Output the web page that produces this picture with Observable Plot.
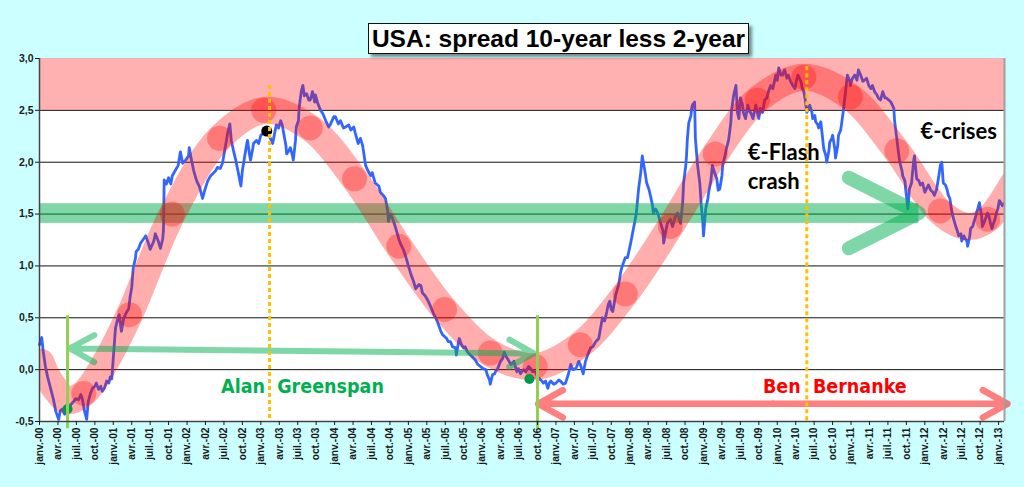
<!DOCTYPE html>
<html><head><meta charset="utf-8">
<script src="https://cdn.jsdelivr.net/npm/d3@7"></script>
<script src="https://cdn.jsdelivr.net/npm/@observablehq/plot@0.6"></script>
<style>
html,body{margin:0;padding:0;background:#ccffff;}
#wrap{position:relative;width:1024px;height:487px;overflow:hidden;background:#ccffff;}
#title{position:absolute;left:368px;top:23px;width:381px;height:31px;box-sizing:border-box;background:#fff;border:1px solid #111;box-shadow:3px 3px 3px rgba(0,0,0,0.45);font:bold 24.5px "Liberation Sans",Arial,sans-serif;text-align:center;line-height:29px;color:#000;white-space:nowrap;}
</style></head>
<body><div id="wrap"><div id="chart"></div><div id="title">USA: spread 10-year less 2-year</div></div>
<script>
// ---- data (decimal years since janv. 2000, spread in %) ----
const monthLabels = ["janv.","avr.","juil.","oct."];
const yTicks = [-0.5, 0, 0.5, 1, 1.5, 2, 2.5, 3];
const xTicks = d3.range(0, 53).map(i => i / 4);

const spreadSeries = [
[0.00,0.24],[0.03,0.31],[0.05,0.18],[0.08,0.03],[0.11,-0.07],[0.15,-0.18],[0.19,-0.29],[0.22,-0.40],[0.26,-0.48],[0.28,-0.40],
[0.31,-0.38],[0.34,-0.43],[0.37,-0.36],[0.39,-0.40],[0.42,-0.34],[0.46,-0.31],[0.49,-0.28],[0.53,-0.29],[0.56,-0.24],[0.58,-0.28],
[0.61,-0.40],[0.64,-0.48],[0.66,-0.31],[0.69,-0.23],[0.72,-0.18],[0.75,-0.16],[0.77,-0.13],[0.80,-0.19],[0.83,-0.16],[0.85,-0.21],
[0.88,-0.18],[0.91,-0.11],[0.94,-0.13],[0.96,-0.07],[0.98,-0.09],[1.00,0.11],[1.03,0.40],[1.06,0.49],[1.08,0.53],[1.11,0.37],
[1.14,0.49],[1.17,0.54],[1.21,0.59],[1.23,0.71],[1.25,0.79],[1.27,0.98],[1.30,1.07],[1.31,1.14],[1.34,1.16],[1.37,1.22],
[1.41,1.26],[1.44,1.29],[1.48,1.21],[1.50,1.16],[1.55,1.24],[1.57,1.31],[1.61,1.24],[1.64,1.17],[1.67,1.26],[1.68,1.34],
[1.69,1.83],[1.72,1.79],[1.75,1.85],[1.78,1.79],[1.80,1.87],[1.84,1.92],[1.88,1.97],[1.91,2.10],[1.94,1.99],[1.98,2.02],
[2.02,2.06],[2.03,2.14],[2.06,2.02],[2.09,1.92],[2.13,1.82],[2.17,1.76],[2.21,1.65],[2.24,1.73],[2.28,1.82],[2.32,1.87],
[2.35,1.89],[2.39,1.92],[2.41,1.95],[2.45,1.94],[2.48,1.99],[2.51,2.11],[2.55,2.28],[2.58,2.37],[2.60,2.21],[2.63,2.11],
[2.66,2.02],[2.68,1.95],[2.73,1.77],[2.75,1.92],[2.78,2.05],[2.81,2.18],[2.82,2.21],[2.85,2.06],[2.86,2.02],[2.89,2.13],
[2.90,2.18],[2.94,2.21],[2.97,2.18],[3.00,2.26],[3.04,2.28],[3.06,2.31],[3.09,2.29],[3.13,2.23],[3.16,2.18],[3.19,2.29],
[3.21,2.36],[3.24,2.33],[3.27,2.40],[3.29,2.36],[3.31,2.28],[3.34,2.16],[3.35,2.08],[3.38,2.11],[3.40,2.14],[3.43,2.06],
[3.44,2.02],[3.47,2.21],[3.48,2.34],[3.51,2.40],[3.52,2.53],[3.55,2.69],[3.57,2.74],[3.59,2.64],[3.62,2.66],[3.65,2.60],
[3.67,2.60],[3.70,2.68],[3.73,2.58],[3.74,2.65],[3.77,2.57],[3.81,2.50],[3.84,2.47],[3.88,2.40],[3.92,2.34],[3.94,2.36],
[3.99,2.44],[4.01,2.44],[4.05,2.37],[4.08,2.40],[4.12,2.33],[4.15,2.34],[4.19,2.36],[4.22,2.31],[4.26,2.34],[4.28,2.28],
[4.32,2.18],[4.35,2.23],[4.38,2.16],[4.42,1.97],[4.45,1.92],[4.49,1.87],[4.51,1.90],[4.55,1.80],[4.60,1.77],[4.62,1.71],
[4.66,1.68],[4.69,1.65],[4.72,1.53],[4.73,1.43],[4.76,1.50],[4.79,1.45],[4.83,1.36],[4.87,1.26],[4.89,1.22],[4.93,1.16],
[4.96,1.10],[5.00,1.00],[5.03,0.93],[5.07,0.85],[5.10,0.78],[5.14,0.82],[5.17,0.81],[5.19,0.74],[5.23,0.71],[5.27,0.66],
[5.30,0.61],[5.34,0.54],[5.37,0.50],[5.40,0.45],[5.41,0.43],[5.44,0.37],[5.46,0.34],[5.49,0.32],[5.52,0.30],[5.54,0.27],
[5.57,0.27],[5.60,0.22],[5.64,0.21],[5.65,0.14],[5.68,0.27],[5.69,0.30],[5.72,0.24],[5.75,0.21],[5.77,0.22],[5.80,0.17],
[5.84,0.14],[5.87,0.12],[5.91,0.09],[5.94,0.05],[5.98,0.03],[6.01,0.01],[6.05,0.00],[6.07,-0.05],[6.10,-0.10],[6.11,-0.14],
[6.14,-0.05],[6.17,-0.04],[6.18,-0.02],[6.21,0.01],[6.25,0.08],[6.28,0.11],[6.30,0.17],[6.33,0.12],[6.34,0.11],[6.39,0.05],
[6.43,0.08],[6.47,-0.02],[6.49,0.01],[6.52,-0.04],[6.56,0.00],[6.59,-0.02],[6.63,0.03],[6.66,0.01],[6.68,-0.02],[6.72,-0.02],
[6.76,-0.08],[6.81,-0.11],[6.83,-0.13],[6.86,-0.11],[6.89,-0.18],[6.91,-0.13],[6.93,-0.11],[6.97,-0.14],[7.00,-0.13],[7.04,-0.10],
[7.06,-0.11],[7.10,-0.14],[7.13,-0.13],[7.17,-0.04],[7.20,0.05],[7.23,0.00],[7.27,0.01],[7.31,0.08],[7.33,0.05],[7.37,-0.04],
[7.40,0.08],[7.43,0.14],[7.47,0.21],[7.50,0.22],[7.54,0.27],[7.58,0.30],[7.61,0.42],[7.63,0.50],[7.66,0.47],[7.69,0.56],
[7.71,0.63],[7.73,0.66],[7.75,0.58],[7.77,0.56],[7.81,0.72],[7.85,0.82],[7.88,0.95],[7.90,1.00],[7.94,1.08],[7.97,1.08],
[8.01,1.21],[8.04,1.32],[8.07,1.43],[8.09,1.51],[8.12,1.74],[8.15,1.90],[8.17,2.06],[8.20,1.94],[8.23,1.80],[8.26,1.74],
[8.28,1.68],[8.31,1.58],[8.32,1.51],[8.35,1.55],[8.38,1.51],[8.42,1.41],[8.45,1.34],[8.46,1.22],[8.49,1.34],[8.51,1.41],
[8.55,1.45],[8.58,1.38],[8.62,1.48],[8.65,1.51],[8.69,1.41],[8.72,1.63],[8.73,1.80],[8.76,1.97],[8.77,2.06],[8.78,2.21],
[8.80,2.38],[8.83,2.45],[8.84,2.52],[8.85,2.55],[8.88,2.58],[8.89,2.23],[8.92,1.97],[8.95,1.80],[8.97,1.58],[8.99,1.43],
[9.00,1.29],[9.03,1.55],[9.06,1.65],[9.07,1.71],[9.10,1.82],[9.12,1.97],[9.15,1.90],[9.18,1.84],[9.20,1.73],[9.22,1.74],
[9.25,1.87],[9.26,1.97],[9.29,2.06],[9.31,2.13],[9.34,2.21],[9.37,2.38],[9.38,2.50],[9.41,2.65],[9.44,2.74],[9.46,2.48],
[9.48,2.42],[9.50,2.62],[9.53,2.55],[9.54,2.48],[9.57,2.42],[9.60,2.55],[9.63,2.48],[9.64,2.48],[9.67,2.42],[9.71,2.55],
[9.73,2.48],[9.75,2.42],[9.77,2.52],[9.80,2.48],[9.83,2.60],[9.86,2.62],[9.88,2.68],[9.91,2.74],[9.94,2.71],[9.98,2.84],
[10.00,2.79],[10.02,2.91],[10.05,2.84],[10.07,2.84],[10.10,2.89],[10.13,2.81],[10.15,2.84],[10.18,2.78],[10.21,2.74],[10.24,2.71],
[10.26,2.79],[10.28,2.84],[10.30,2.81],[10.32,2.78],[10.34,2.71],[10.36,2.68],[10.38,2.60],[10.40,2.48],[10.42,2.52],[10.44,2.55],
[10.47,2.48],[10.48,2.42],[10.51,2.45],[10.52,2.39],[10.55,2.36],[10.56,2.33],[10.59,2.39],[10.61,2.26],[10.63,2.13],[10.66,2.06],
[10.67,2.00],[10.70,2.11],[10.71,2.19],[10.74,2.23],[10.75,2.26],[10.78,2.13],[10.79,2.04],[10.82,2.16],[10.83,2.26],[10.86,2.31],
[10.87,2.36],[10.90,2.52],[10.93,2.71],[10.95,2.84],[10.98,2.79],[10.99,2.74],[11.02,2.81],[11.05,2.84],[11.08,2.79],[11.10,2.89],
[11.13,2.84],[11.16,2.78],[11.18,2.79],[11.21,2.81],[11.24,2.74],[11.27,2.71],[11.29,2.74],[11.32,2.68],[11.35,2.65],[11.37,2.62],
[11.40,2.60],[11.43,2.68],[11.46,2.62],[11.48,2.62],[11.51,2.60],[11.54,2.58],[11.56,2.55],[11.58,2.52],[11.59,2.40],[11.62,2.23],
[11.64,2.11],[11.66,2.00],[11.69,1.92],[11.70,1.87],[11.73,1.82],[11.74,1.74],[11.75,1.68],[11.77,1.55],[11.78,1.63],[11.79,1.74],
[11.82,1.80],[11.85,2.02],[11.86,2.06],[11.89,1.84],[11.92,1.82],[11.94,1.78],[11.97,1.80],[12.00,1.71],[12.02,1.74],[12.05,1.78],
[12.08,1.73],[12.11,1.71],[12.13,1.68],[12.16,1.74],[12.19,1.87],[12.21,1.97],[12.23,2.00],[12.24,1.90],[12.25,1.80],[12.28,1.78],
[12.30,1.74],[12.32,1.68],[12.34,1.65],[12.36,1.55],[12.38,1.48],[12.40,1.43],[12.42,1.38],[12.44,1.34],[12.46,1.29],[12.49,1.31],
[12.50,1.24],[12.53,1.29],[12.54,1.27],[12.57,1.24],[12.58,1.19],[12.61,1.29],[12.62,1.36],[12.65,1.38],[12.66,1.41],[12.69,1.48],
[12.70,1.51],[12.73,1.58],[12.74,1.61],[12.77,1.48],[12.78,1.38],[12.81,1.43],[12.82,1.45],[12.85,1.51],[12.87,1.48],[12.89,1.41],
[12.91,1.36],[12.93,1.41],[12.95,1.45],[12.97,1.51],[12.99,1.55],[13.01,1.63],[13.03,1.61],[13.05,1.58],[13.07,1.60]
];

// hand-drawn cycle band and its marker circles
const cyclePath = [[0.02,0.07],[0.10,-0.06],[0.22,-0.19],[0.38,-0.30],[0.60,-0.23],[0.90,0.08],[1.22,0.53],[1.80,1.50],[2.44,2.23],
  [3.05,2.50],[3.67,2.33],[4.27,1.84],[4.87,1.19],[5.49,0.58],[6.11,0.16],[6.72,0.03],[7.33,0.24],[7.94,0.73],[8.55,1.38],
  [9.16,2.08],[9.73,2.60],[10.36,2.82],[10.99,2.63],[11.62,2.11],[12.21,1.52],[12.58,1.38],[12.85,1.45],[13.20,1.80]];
const cycleDots = [[0.60,-0.23],[1.22,0.53],[1.80,1.50],[2.44,2.23],[3.04,2.50],[3.67,2.33],[4.27,1.84],[4.87,1.19],[5.49,0.58],
  [6.11,0.16],[6.72,0.03],[7.33,0.24],[7.94,0.73],[8.55,1.38],[9.16,2.08],[9.73,2.60],[10.36,2.82],[10.99,2.63],[11.62,2.11],
  [12.21,1.53],[12.85,1.45]];

const xMax = 13.08;
const fmtX = t => { const q = Math.round(t * 4); return monthLabels[q % 4] + "-" + String(Math.floor(q / 4)).padStart(2, "0"); };
const fmtY = d => d.toFixed(1).replace(".", ",");

const line = spreadSeries.map(([t, v]) => ({t, v}));
const cyc = cyclePath.map(([t, v]) => ({t, v}));
const cdots = cycleDots.map(([t, v]) => ({t, v}));

const labelFont = '"DejaVu Sans Condensed","DejaVu Sans",sans-serif';
const noteFont = 'Lato,"Open Sans",sans-serif';

const chart = Plot.plot({
  width: 1024, height: 487,
  marginLeft: 39, marginRight: 20, marginTop: 58, marginBottom: 66,
  x: {domain: [0, xMax]},
  y: {domain: [-0.5, 3]},
  style: {background: "transparent", color: "#1a1a1a", fontFamily: '"Liberation Sans",Arial,sans-serif'},
  marks: [
    Plot.frame({fill: "white", stroke: "none"}),
    Plot.ruleY(yTicks.filter(d => d > -0.5 && d < 3), {stroke: "#111", strokeWidth: 1}),
    Plot.line(line, {x: "t", y: "v", stroke: "#3366ff", strokeWidth: 2.8, strokeLinejoin: "round"}),
    Plot.rect([{a: 0, b: 11.92, c: 1.41, d: 1.60}], {x1: "a", x2: "b", y1: "c", y2: "d", fill: "#00b050", fillOpacity: 0.5}),
    Plot.rect([{a: 0, b: xMax, c: 2.5, d: 3.0}], {x1: "a", x2: "b", y1: "c", y2: "d", fill: "#ff0000", fillOpacity: 0.31}),
    Plot.line(cyc, {x: "t", y: "v", curve: "catmull-rom", stroke: "#ff0000", strokeOpacity: 0.32, strokeWidth: 27, strokeLinecap: "round", clip: true}),
    Plot.dot(cdots, {x: "t", y: "v", r: 12.5, fill: "#ff0000", fillOpacity: 0.3, stroke: "none", clip: true}),
    Plot.line([{t: 10.97, v: 1.85}, {t: 11.92, v: 1.51}, {t: 10.97, v: 1.17}], {x: "t", y: "v", stroke: "#00b050", strokeOpacity: 0.5, strokeWidth: 14, strokeLinecap: "round", strokeLinejoin: "round"}),
    Plot.arrow([{a: 3.55, b: 0.18, c: 0.41, d: 0.205}, {a: 3.55, b: 0.18, c: 6.70, d: 0.156}],
      {x1: "a", y1: "b", x2: "c", y2: "d", stroke: "#00b050", strokeWidth: 6, headLength: 7, headAngle: 58, strokeLinecap: "round", strokeLinejoin: "round"}),
    Plot.arrow([{a: 9.94, b: -0.33, c: 6.76, d: -0.33}, {a: 9.94, b: -0.33, c: 13.12, d: -0.33}],
      {x1: "a", y1: "b", x2: "c", y2: "d", stroke: "#ff0000", strokeWidth: 6.5, headLength: 6.5, headAngle: 58, strokeLinecap: "round", strokeLinejoin: "round"}),
    Plot.dot([{t: 3.08, v: 2.30}], {x: "t", y: "v", r: 5.5, fill: "#000"}),
    Plot.dot([{t: 0.38, v: -0.38}, {t: 6.64, v: -0.09}], {x: "t", y: "v", r: 5, fill: "#00994d"}),
    Plot.ruleX([0.38, 6.75], {y1: 0.52, y2: -0.57, stroke: "#92d050", strokeWidth: 3}),
    Plot.ruleX([3.118], {y1: 2.74, y2: -0.5, stroke: "#ffc000", strokeWidth: 3, strokeDasharray: "4,3"}),
    Plot.ruleX([10.40], {y1: 2.92, y2: -0.5, stroke: "#ffc000", strokeWidth: 3, strokeDasharray: "4,3"}),
    Plot.ruleX([xMax], {stroke: "#a0a0a0", strokeWidth: 2}),
    Plot.ruleY([-0.5], {stroke: "#444", strokeWidth: 1.5}),
    Plot.ruleX([0], {stroke: "#444", strokeWidth: 1.5}),
    Plot.axisY({ticks: yTicks, tickFormat: fmtY, tickSize: 4, tickPadding: 2, fontSize: 10.5, fontWeight: "bold", label: null}),
    Plot.axisX({ticks: xTicks, tickFormat: fmtX, tickRotate: -90, tickSize: 4, tickPadding: 2, fontSize: 10.2, fontWeight: "bold", label: null}),
    Plot.text(["Alan\u00a0\u00a0Greenspan"], {x: 3.565, y: -0.23, text: d => d, fill: "#00b050", fontSize: 19.5, fontWeight: "bold", fontFamily: labelFont, lineAnchor: "bottom", textAnchor: "middle"}),
    Plot.text(["Ben\u00a0\u00a0Bernanke"], {x: 10.78, y: -0.23, text: d => d, fill: "#ff0000", fontSize: 19.5, fontWeight: "bold", fontFamily: labelFont, lineAnchor: "bottom", textAnchor: "middle"}),
    Plot.text(["€-Flash"], {x: 9.60, y: 2.02, text: d => d, fill: "#000", fontSize: 22, fontWeight: "bold", fontFamily: noteFont, lineAnchor: "bottom", textAnchor: "start"}),
    Plot.text(["crash"], {x: 9.60, y: 1.745, text: d => d, fill: "#000", fontSize: 22, fontWeight: "bold", fontFamily: noteFont, lineAnchor: "bottom", textAnchor: "start"}),
    Plot.text(["€-crises"], {x: 11.94, y: 2.22, text: d => d, fill: "#000", fontSize: 22, fontWeight: "bold", fontFamily: noteFont, lineAnchor: "bottom", textAnchor: "start"})
  ]
});
chart.querySelectorAll('g[aria-label="arrow"]').forEach(g => g.setAttribute("opacity", "0.5"));
document.getElementById("chart").appendChild(chart);
</script>
</body></html>
